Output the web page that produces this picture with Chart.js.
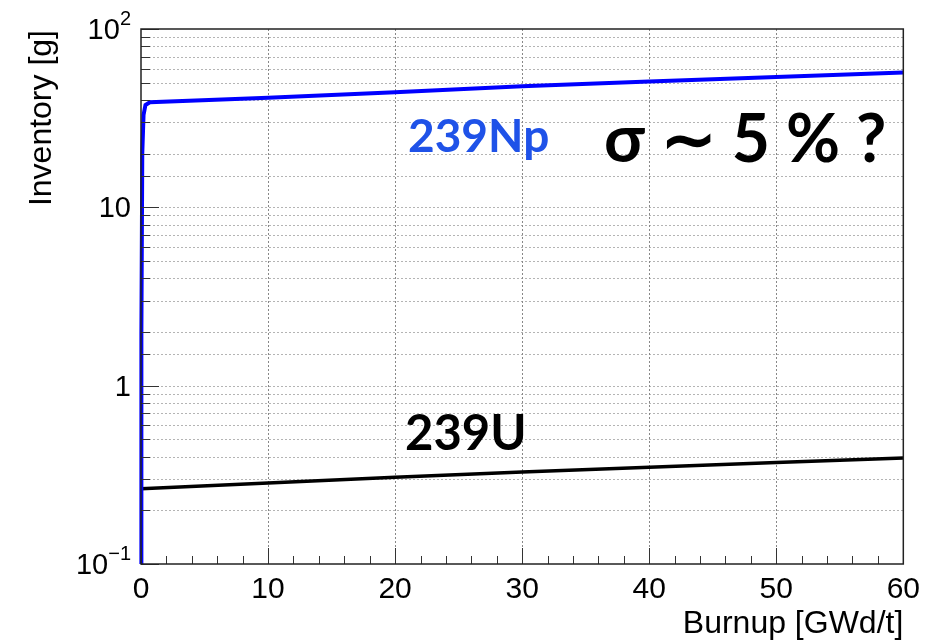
<!DOCTYPE html>
<html>
<head>
<meta charset="utf-8">
<script src="https://cdn.jsdelivr.net/npm/chart.js@4/dist/chart.umd.min.js"></script>
<style>
  html, body { margin: 0; padding: 0; background: #fff; }
  #wrap { width: 928px; height: 640px; position: relative; }
</style>
</head>
<body>
<div id="wrap"><canvas id="invChart"></canvas></div>
<script>
// valores
const burnupNp = [0, 0.03, 0.1, 0.2, 0.35, 0.7, 10, 20, 30, 40, 50, 60];
const inventoryNp = [0.01, 2, 20, 33, 37.5, 38.8, 41.2, 44.2, 47.7, 50.7, 53.8, 57];
const burnupU = [0, 10, 20, 30, 40, 50, 60];
const inventoryU = [0.264, 0.285, 0.307, 0.328, 0.349, 0.371, 0.393];
// rótulos do eixo y: [base, expoente]
const yTickLabels = { '-1': ['10', '\u22121'], '0': ['1', ''], '1': ['10', ''], '2': ['10', '2'] };
const xMinorStep = 2;

const toPoints = (xs, ys) => xs.map((x, i) => ({ x: x, y: ys[i] }));
const FONT = '"Liberation Sans", Arial, sans-serif';

// grelha pontilhada, traços para dentro, moldura e textos
const rootStyle = {
  id: 'rootStyle',
  beforeDatasetsDraw(chart) {
    const { ctx, chartArea: a, scales: { x, y } } = chart;
    ctx.save();
    ctx.lineWidth = 1;
    ctx.setLineDash([2, 2]);
    ctx.strokeStyle = '#b4b4b4';
    y.ticks.forEach(t => {
      const py = Math.round(y.getPixelForValue(t.value)) + 0.5;
      if (py <= a.top + 1 || py >= a.bottom - 1) return;
      ctx.beginPath(); ctx.moveTo(a.left, py); ctx.lineTo(a.right, py); ctx.stroke();
    });
    ctx.strokeStyle = '#888888';
    x.ticks.forEach(t => {
      const px = Math.round(x.getPixelForValue(t.value)) + 0.5;
      if (px <= a.left + 1 || px >= a.right - 1) return;
      ctx.beginPath(); ctx.moveTo(px, a.top); ctx.lineTo(px, a.bottom); ctx.stroke();
    });
    ctx.restore();
  },
  afterDraw(chart) {
    const { ctx, chartArea: a, scales: { x, y } } = chart;
    ctx.save();
    ctx.strokeStyle = '#333333';
    ctx.lineWidth = 1;
    // traços do eixo y + rótulos
    y.ticks.forEach(t => {
      const lg = Math.log10(t.value);
      const major = Math.abs(lg - Math.round(lg)) < 1e-6;
      const py = Math.round(y.getPixelForValue(t.value)) + 0.5;
      ctx.beginPath(); ctx.moveTo(a.left, py); ctx.lineTo(a.left + (major ? 18 : 9), py); ctx.stroke();
      if (!major) return;
      const lab = yTickLabels[String(Math.round(lg))];
      if (!lab) return;
      ctx.fillStyle = '#000';
      ctx.textBaseline = 'middle';
      ctx.textAlign = 'right';
      let right = a.left - 10;
      if (lab[1]) {
        ctx.font = '20px ' + FONT;
        ctx.fillText(lab[1], right, py - 10);
        right -= ctx.measureText(lab[1]).width;
      }
      ctx.font = '29px ' + FONT;
      ctx.fillText(lab[0], right, py + 1);
    });
    // traços do eixo x
    for (let v = x.min; v <= x.max + 1e-9; v += xMinorStep) {
      const major = Math.abs(v % 10) < 1e-9;
      const px = Math.round(x.getPixelForValue(v)) + 0.5;
      ctx.beginPath(); ctx.moveTo(px, a.bottom); ctx.lineTo(px, a.bottom - (major ? 16 : 8)); ctx.stroke();
    }
    // moldura
    ctx.lineWidth = 1.5;
    ctx.strokeStyle = '#222222';
    ctx.strokeRect(a.left, a.top, a.right - a.left, a.bottom - a.top);

    // títulos dos eixos
    ctx.fillStyle = '#000';
    ctx.font = '32px ' + FONT;
    ctx.textAlign = 'right';
    ctx.textBaseline = 'alphabetic';
    ctx.fillText('Burnup [GWd/t]', a.right, 633);
    ctx.translate(51, a.top + 1);
    ctx.rotate(-Math.PI / 2);
    ctx.fillText('Inventory [g]', 0, 0);
    ctx.restore();

    // anotações
    ctx.save();
    ctx.textAlign = 'left';
    ctx.textBaseline = 'alphabetic';
    ctx.font = 'bold 46px Lato, "Open Sans", sans-serif';
    ctx.fillStyle = '#1f52e8';
    ctx.fillText('239Np', 408, 152);
    ctx.fillStyle = '#000';
    ctx.font = 'bold 49px Lato, "Open Sans", sans-serif';
    ctx.fillText('239U', 405, 450);
    ctx.font = 'bold 66px Lato, "Open Sans", sans-serif';
    ctx.fillText('\u03C3 \u223C 5 % ?', 604, 162);
    ctx.restore();
  }
};

const ctx = document.getElementById('invChart').getContext('2d');
new Chart(ctx, {
  type: 'line',
  data: {
    datasets: [
      {
        label: '239Np',
        data: toPoints(burnupNp, inventoryNp),
        borderColor: '#0000ff',
        borderWidth: 4,
        pointRadius: 0,
        tension: 0,
        clip: { left: 3, top: 0, right: 0, bottom: 0 }
      },
      {
        label: '239U',
        data: toPoints(burnupU, inventoryU),
        borderColor: '#000000',
        borderWidth: 3.5,
        pointRadius: 0,
        tension: 0
      }
    ]
  },
  plugins: [rootStyle],
  options: {
    responsive: true,
    maintainAspectRatio: false,
    animation: false,
    layout: { padding: { top: 29, right: 23, left: 0, bottom: 0 } },
    plugins: { legend: { display: false }, tooltip: { enabled: false } },
    scales: {
      x: {
        type: 'linear',
        min: 0,
        max: 60,
        grid: { display: false, drawTicks: false },
        border: { display: false },
        ticks: {
          stepSize: 10,
          padding: 8,
          color: '#000',
          font: { family: FONT, size: 30 }
        },
        afterFit: s => { s.height = 76; }
      },
      y: {
        type: 'logarithmic',
        min: 0.1,
        max: 100,
        grid: { display: false, drawTicks: false },
        border: { display: false },
        ticks: { autoSkip: false, display: false },
        afterFit: s => { s.width = 141; }
      }
    }
  }
});
</script>
</body>
</html>
